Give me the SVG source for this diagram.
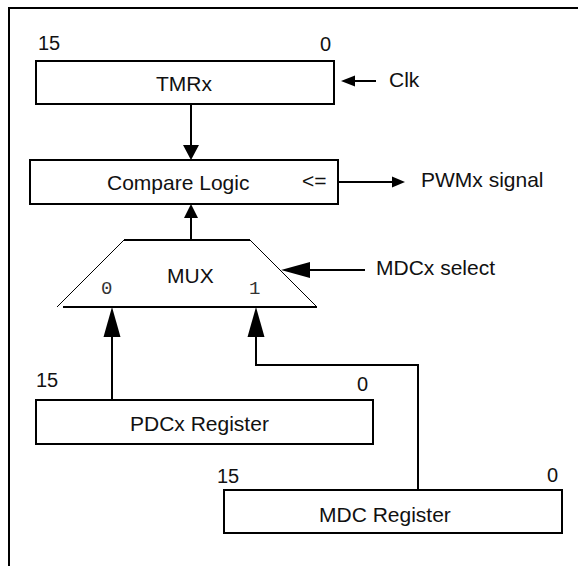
<svg xmlns="http://www.w3.org/2000/svg" width="578" height="566" viewBox="0 0 578 566">
<style>
.box{fill:#fff;stroke:#000;stroke-width:2}
.lbl{font-family:"Liberation Sans",Arial,sans-serif;font-size:21px;fill:#111}
.num{font-family:"Liberation Sans",Arial,sans-serif;font-size:20px;fill:#111}
.mono{font-family:"Liberation Mono","Courier New",monospace;font-size:19px;fill:#333}
.ln{fill:none;stroke:#000;stroke-width:2}
.ah{fill:#000;stroke:none}
</style>
<rect width="578" height="566" fill="#fff"/>
<g id="frame">
<path class="ln" d="M9,566 V8 H578"/>
</g>
<g id="tmrx">
<rect class="box" x="36" y="61" width="298" height="43"/>
<text class="lbl" x="156" y="91">TMRx</text>
<text class="num" x="38" y="50">15</text>
<text class="num" x="331" y="51" text-anchor="end">0</text>
</g>
<g id="compare">
<rect class="box" x="30" y="160" width="308" height="44"/>
<text class="lbl" x="107" y="190">Compare Logic</text>
<text class="lbl" x="302" y="188">&lt;=</text>
</g>
<g id="mux">
<path d="M124,240 L57,307 M250,240 L317,307" stroke="#000" stroke-width="1" fill="none"/>
<path class="ln" d="M124,240 H250 M63,307 H317"/>
<text class="lbl" x="167" y="283">MUX</text>
<text class="mono" x="101" y="294">0</text>
<text class="mono" x="249" y="294">1</text>
</g>
<g id="pdcx">
<rect class="box" x="36" y="400" width="337" height="44"/>
<text class="lbl" x="130" y="431">PDCx Register</text>
<text class="num" x="36" y="387">15</text>
<text class="num" x="368" y="391" text-anchor="end">0</text>
</g>
<g id="mdc">
<rect class="box" x="224" y="490" width="338" height="43"/>
<text class="lbl" x="319" y="522">MDC Register</text>
<text class="num" x="217" y="483">15</text>
<text class="num" x="558" y="482" text-anchor="end">0</text>
</g>
<g id="clk">
<text class="lbl" x="389" y="87">Clk</text>
</g>
<g id="pwm">
<text class="lbl" x="421" y="187">PWMx signal</text>
</g>
<g id="mdcsel">
<text class="lbl" x="376" y="275">MDCx select</text>
</g>
<g id="connectors">
<path class="ln" d="M191,104 V146"/>
<polygon class="ah" points="191,160 183,145 199,145"/>
<path class="ln" d="M191,240 V217"/>
<polygon class="ah" points="191,204 184,218 198,218"/>
<path class="ln" d="M376,81 H354"/>
<polygon class="ah" points="341,81 355,75.5 355,86.5"/>
<path class="ln" d="M338,182 H393"/>
<polygon class="ah" points="405,182 392,176.5 392,187.5"/>
<path class="ln" d="M365,270 H309"/>
<polygon class="ah" points="281,270 310,262 310,278"/>
<path class="ln" d="M112,400 V336"/>
<polygon class="ah" points="112,307 103.5,337 120.5,337"/>
<path class="ln" d="M418,490 V365 H256 V336"/>
<polygon class="ah" points="256,307 247.5,337 264.5,337"/>
</g>
</svg>
